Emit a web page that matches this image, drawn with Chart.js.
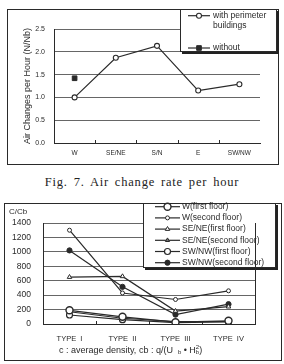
<!DOCTYPE html>
<html>
<head>
<meta charset="utf-8">
<script src="https://cdn.jsdelivr.net/npm/chart.js@4.4.0/dist/chart.umd.min.js"></script>
<style>
html, body { margin: 0; padding: 0; background: #fff; }
body { width: 284px; height: 364px; position: relative; overflow: hidden; }
#wrapTop { position: absolute; left: 0; top: 0; width: 284px; height: 170px; }
#wrapBottom { position: absolute; left: 0; top: 190px; width: 284px; height: 174px; }
#caption { position: absolute; left: 0; top: 175px; width: 284px; text-align: center;
  font-family: "Liberation Serif", "DejaVu Serif", serif; font-size: 12.5px; color: #222;
  letter-spacing: 0.8px; word-spacing: 2px; }
</style>
</head>
<body>
<div id="wrapTop"><canvas id="airChart" width="284" height="170"></canvas></div>
<div id="caption">Fig. 7. Air change rate per hour</div>
<div id="wrapBottom"><canvas id="densChart" width="284" height="174"></canvas></div>
<script>
// datos del gráfico superior
const directions = ['W', 'SE/NE', 'S/N', 'E', 'SW/NW'];
const airSeriesNames = ['with perimeter buildings', 'without'];
const withPerimeter = [1.0, 1.87, 2.13, 1.15, 1.29];
const withoutPerimeter = [1.42, null, null, null, null];
const airTicks = [0, 0.5, 1.0, 1.5, 2.0, 2.5];
const airTitle = 'Air Changes per Hour (N/Nb)';

// datos del gráfico inferior
const types = ['TYPE  I', 'TYPE  II', 'TYPE  III', 'TYPE  IV'];
const densSeriesNames = ['W(first floor)', 'W(second floor)', 'SE/NE(first floor)',
  'SE/NE(second floor)', 'SW/NW(first floor)', 'SW/NW(second floor)'];
const wFirst = [190, 100, 25, 45];
const wSecond = [1300, 430, 340, 460];
const seFirst = [650, 660, 180, 240];
const seSecond = [170, 80, 35, 35];
const swFirst = [125, 60, 20, 30];
const swSecond = [1020, 515, 130, 275];
const densTicks = [0, 200, 400, 600, 800, 1000, 1200, 1400];
const densUnit = 'C/Cb';

const ink = '#2a2a2a';
const gridInk = '#666';
const sans = '"Liberation Sans", Arial, sans-serif';

// marco exterior
const frameBox = {
  id: 'frameBox',
  beforeDraw(chart, args, o) {
    const ctx = chart.ctx;
    ctx.save();
    ctx.strokeStyle = ink;
    ctx.lineWidth = 1;
    ctx.strokeRect(o.x, o.y, o.w, o.h);
    ctx.restore();
  }
};

// marcas pequeñas entre categorías
const innerTicks = {
  id: 'innerTicks',
  afterDatasetsDraw(chart) {
    const sx = chart.scales.x, ctx = chart.ctx, b = chart.chartArea.bottom;
    ctx.save();
    ctx.strokeStyle = ink;
    ctx.lineWidth = 1;
    for (let i = 0; i < sx.ticks.length - 1; i++) {
      const x = Math.round((sx.getPixelForTick(i) + sx.getPixelForTick(i + 1)) / 2) + 0.5;
      ctx.beginPath(); ctx.moveTo(x, b); ctx.lineTo(x, b - 3); ctx.stroke();
    }
    ctx.restore();
  }
};

// leyenda en caja con sombra
const boxLegend = {
  id: 'boxLegend',
  afterDraw(chart, args, o) {
    const ctx = chart.ctx;
    ctx.save();
    ctx.fillStyle = '#222';
    ctx.fillRect(o.x + 2, o.y + 2, o.w, o.h);
    ctx.fillStyle = '#fff';
    ctx.fillRect(o.x, o.y, o.w, o.h);
    ctx.strokeStyle = ink;
    ctx.lineWidth = 1;
    ctx.strokeRect(o.x + 0.5, o.y + 0.5, o.w - 1, o.h - 1);
    ctx.font = o.fontSize + 'px ' + sans;
    ctx.textBaseline = 'middle';
    chart.data.datasets.forEach((ds, i) => {
      const y = o.rows[i];
      ctx.strokeStyle = ds.borderColor;
      ctx.lineWidth = 1.2;
      ctx.beginPath(); ctx.moveTo(o.x0, y); ctx.lineTo(o.x1, y); ctx.stroke();
      ctx.fillStyle = ds.pointBackgroundColor;
      ctx.strokeStyle = ds.pointBorderColor;
      ctx.lineWidth = ds.pointBorderWidth;
      Chart.helpers.drawPoint(ctx, { pointStyle: ds.pointStyle, radius: ds.pointRadius,
        borderWidth: ds.pointBorderWidth, rotation: 0 }, (o.x0 + o.x1) / 2, y);
      // ajuste de líneas
      const words = ds.label.split(' ');
      const lines = [];
      let cur = '';
      words.forEach(w => {
        const t = cur ? cur + ' ' + w : w;
        if (cur && ctx.measureText(t).width > o.maxW) { lines.push(cur); cur = w; } else cur = t;
      });
      lines.push(cur);
      ctx.fillStyle = ink;
      lines.forEach((l, k) => ctx.fillText(l, o.tx, y + k * o.lineH));
    });
    ctx.restore();
  }
};

// gráfico superior
new Chart(document.getElementById('airChart'), {
  type: 'line',
  data: {
    labels: directions,
    datasets: [{
      label: airSeriesNames[0],
      data: withPerimeter,
      borderColor: ink, borderWidth: 1.2, tension: 0,
      pointStyle: 'circle', pointRadius: 2.5,
      pointBackgroundColor: '#fff', pointBorderColor: ink, pointBorderWidth: 1.1
    }, {
      label: airSeriesNames[1],
      data: withoutPerimeter,
      showLine: false,
      borderColor: ink, borderWidth: 1.2,
      pointStyle: 'rect', pointRadius: 3.3,
      pointBackgroundColor: ink, pointBorderColor: ink, pointBorderWidth: 1
    }]
  },
  options: {
    responsive: false,
    animation: false,
    layout: { padding: { left: 18, right: 24, top: 29, bottom: 0 } },
    plugins: {
      legend: { display: false },
      tooltip: { enabled: false },
      frameBox: { x: 7.5, y: 9.5, w: 271, h: 155 },
      boxLegend: { x: 180, y: 9, w: 97, h: 43, x0: 188, x1: 210, tx: 213,
        rows: [15.7, 48], lineH: 10.3, maxW: 62, fontSize: 8.5 }
    },
    scales: {
      x: {
        offset: true,
        grid: { display: false, drawTicks: false },
        border: { display: true, color: ink, width: 1 },
        ticks: { color: ink, font: { family: sans, size: 6.5 }, padding: 6, maxRotation: 0 },
        afterFit: s => { s.height = 27; }
      },
      y: {
        min: airTicks[0], max: airTicks[airTicks.length - 1],
        ticks: { stepSize: airTicks[1] - airTicks[0], color: ink, padding: 9,
          font: { family: sans, size: 7 }, callback: v => v.toFixed(1) },
        grid: { color: gridInk, lineWidth: 1, drawTicks: false },
        border: { display: true, color: ink, width: 1 },
        title: { display: true, text: airTitle, color: ink, padding: 4,
          font: { family: sans, size: 9 } },
        afterFit: s => { s.width = 36; }
      }
    }
  },
  plugins: [frameBox, innerTicks, boxLegend]
});

// rótulos del gráfico inferior
const densNotes = {
  id: 'densNotes',
  afterDraw(chart) {
    const ctx = chart.ctx;
    ctx.save();
    ctx.fillStyle = ink;
    ctx.textBaseline = 'middle';
    ctx.font = '8px ' + sans;
    ctx.fillText(densUnit, 9, 21.7);
    // pie: c : average density, cb : q/(U b * Hb^2)
    let x = 59, y = 160.7;
    const big = '9px ' + sans, small = '6px ' + sans;
    const put = (t, f, dy, adv) => {
      ctx.font = f; ctx.fillText(t, x, y + dy);
      const w = ctx.measureText(t).width;
      if (adv) x += w;
      return w;
    };
    put('c : average density, cb : q/(U', big, 0, true);
    x += 5;
    put('b', small, 2, true);
    put(' • H', big, 0, true);
    put('b', small, 2, false);
    put('2', small, -3, true);
    put(')', big, 0, true);
    // borde derecho del área
    const a = chart.chartArea;
    ctx.strokeStyle = ink;
    ctx.lineWidth = 1;
    ctx.beginPath(); ctx.moveTo(Math.round(a.right) + 0.5, a.top); ctx.lineTo(Math.round(a.right) + 0.5, a.bottom); ctx.stroke();
    ctx.restore();
  }
};

const densStyles = [
  { style: 'circle', r: 3.5, bg: '#fff', bw: 1.4 },
  { style: 'circle', r: 2, bg: '#fff', bw: 1 },
  { style: 'triangle', r: 2.6, bg: '#fff', bw: 1 },
  { style: 'triangle', r: 2.4, bg: '#777', bw: 1 },
  { style: 'circle', r: 3, bg: '#fff', bw: 1.2 },
  { style: 'circle', r: 2.6, bg: ink, bw: 1 }
];
const densData = [wFirst, wSecond, seFirst, seSecond, swFirst, swSecond];

new Chart(document.getElementById('densChart'), {
  type: 'line',
  data: {
    labels: types,
    datasets: densData.map((d, i) => ({
      label: densSeriesNames[i],
      data: d,
      borderColor: ink, borderWidth: 1.2, tension: 0,
      pointStyle: densStyles[i].style, pointRadius: densStyles[i].r,
      pointBackgroundColor: densStyles[i].bg, pointBorderColor: ink,
      pointBorderWidth: densStyles[i].bw
    }))
  },
  options: {
    responsive: false,
    animation: false,
    layout: { padding: { left: 4, right: 29, top: 33, bottom: 0 } },
    plugins: {
      legend: { display: false },
      tooltip: { enabled: false },
      frameBox: { x: 4.5, y: 13.5, w: 277, h: 157 },
      boxLegend: { x: 143, y: 13, w: 133, h: 65, x0: 155, x1: 180, tx: 182,
        rows: [16.7, 27.9, 39.1, 50.3, 61.5, 72.7], lineH: 10, maxW: 200, fontSize: 8.5 }
    },
    scales: {
      x: {
        offset: true,
        grid: { display: false, drawTicks: false },
        border: { display: true, color: ink, width: 1 },
        ticks: { color: ink, font: { family: sans, size: 7.5 }, padding: 10, maxRotation: 0 },
        afterFit: s => { s.height = 40; }
      },
      y: {
        min: densTicks[0], max: densTicks[densTicks.length - 1],
        ticks: { stepSize: densTicks[1] - densTicks[0], color: ink, padding: 12,
          font: { family: sans, size: 8.5 }, callback: v => String(v) },
        grid: { color: gridInk, lineWidth: 1, drawTicks: false },
        border: { display: true, color: ink, width: 1 },
        afterFit: s => { s.width = 39; }
      }
    }
  },
  plugins: [frameBox, innerTicks, boxLegend, densNotes]
});
</script>
</body>
</html>
